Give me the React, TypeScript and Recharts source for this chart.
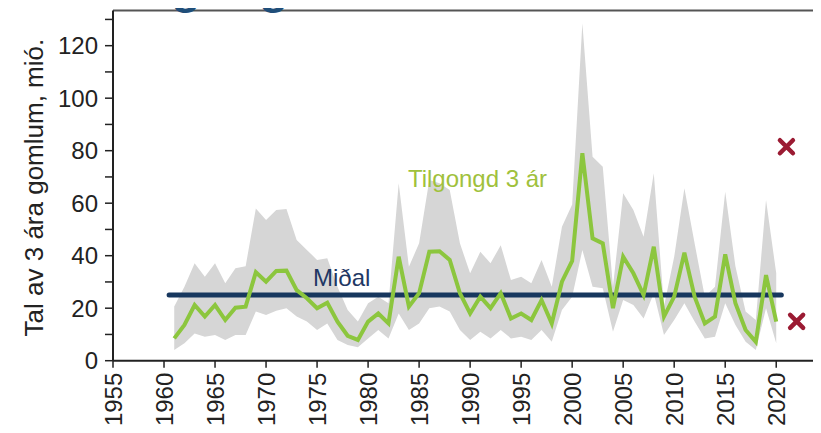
import {
  ComposedChart,
  Area,
  Line,
  Scatter,
  XAxis,
  YAxis,
  ReferenceDot,
  ReferenceLine,
} from "recharts";

// year axis
const years = [
  1961, 1962, 1963, 1964, 1965, 1966, 1967, 1968, 1969, 1970,
  1971, 1972, 1973, 1974, 1975, 1976, 1977, 1978, 1979, 1980,
  1981, 1982, 1983, 1984, 1985, 1986, 1987, 1988, 1989, 1990,
  1991, 1992, 1993, 1994, 1995, 1996, 1997, 1998, 1999, 2000,
  2001, 2002, 2003, 2004, 2005, 2006, 2007, 2008, 2009, 2010,
  2011, 2012, 2013, 2014, 2015, 2016, 2017, 2018, 2019, 2020,
];

// 3 year olds, millions
const recruits = [
  8.5, 13.6, 21.2, 16.8, 21.2, 15.5, 20.2, 20.6, 33.7, 30.1,
  34.2, 34.3, 26.9, 23.8, 20, 22.1, 14.9, 9.5, 7.9, 14.9,
  18, 14.2, 39.6, 20.6, 25.7, 41.5, 41.7, 38.4, 25.7, 18,
  24.4, 20, 25.7, 16.1, 18, 15.5, 23.1, 14.2, 30.1, 38,
  79, 46.6, 44.7, 20, 39.6, 33.3, 25, 43.4, 16.8, 24.4,
  41.1, 24.4, 14.2, 16.8, 40.5, 21.9, 11.7, 7.2, 32.6, 14.9,
];

// uncertainty band
const bandLow = [
  4.1, 6.6, 10.4, 9.1, 9.8, 7.9, 9.8, 9.8, 18.7, 17.4,
  19, 20, 16.8, 14.9, 11.7, 14.2, 7.9, 6, 5.1, 8.5,
  11.7, 8.5, 18, 11.7, 14.2, 20, 20.6, 18.7, 11.7, 7.9,
  11, 8.5, 11.7, 8.5, 9.1, 7.9, 11.7, 7.2, 19.3, 24.4,
  42.2, 28.2, 27.6, 11, 23.1, 21.2, 16.1, 25.7, 9.8, 15.5,
  21.9, 14.9, 8.5, 9.1, 21.9, 13.6, 7.2, 4.1, 20, 6.6,
];

const bandHigh = [
  20.6, 28.2, 37.1, 32, 37.1, 29.5, 35.2, 36, 58, 53.6,
  57.4, 57.8, 46, 42.2, 38.4, 39, 28.2, 19.3, 14.9, 21.9,
  24.4, 21.9, 67.6, 35.8, 44.7, 68.8, 67.6, 65, 44.7, 33.3,
  41.5, 37.1, 44, 30.7, 32, 29.5, 38.4, 28.2, 51, 59.5,
  128.5, 77.7, 73.9, 28.2, 63.8, 57.4, 47.2, 71.4, 20.6, 39.6,
  65.7, 44.7, 24.4, 28.2, 64.4, 36, 18.7, 15.5, 61.2, 33.3,
];

// mean line
const meanYears = [1960.5, 2020.5];
const meanValue = 25;

// projections (red crosses)
const forecastYears = [2021, 2022];
const forecastValues = [81.5, 15];

const xTicks = [1955, 1960, 1965, 1970, 1975, 1980, 1985, 1990, 1995, 2000, 2005, 2010, 2015, 2020];
const yTicks = [0, 10, 20, 30, 40, 50, 60, 70, 80, 90, 100, 110, 120, 130];
const X_MIN = 1955;
const X_MAX = 2023.8;
const Y_MAX = 133.4;

const FONT = "'Liberation Sans', Arial, sans-serif";

const data = years.map((year, i) => ({
  year,
  recruits: recruits[i],
  band: [bandLow[i], bandHigh[i]],
}));
const meanData = meanYears.map((year) => ({ year, mean: meanValue }));
const forecastData = forecastYears.map((year, i) => ({ year, value: forecastValues[i] }));

function XTick({ x, y, payload }: any) {
  const bx = x + 8.7;
  return (
    <text
      x={bx}
      y={y}
      transform={`rotate(-90, ${bx}, ${y})`}
      textAnchor="end"
      fontSize={24}
      fontFamily={FONT}
      fill="#222"
    >
      {payload.value}
    </text>
  );
}

function YTick({ x, y, payload }: any) {
  if (payload.value % 20 !== 0) return null;
  return (
    <text x={x} y={y + 8.5} textAnchor="end" fontSize={24} fontFamily={FONT} fill="#222">
      {payload.value}
    </text>
  );
}

function Cross({ cx, cy }: any) {
  const s = 6.5;
  return (
    <path
      d={`M${cx - s},${cy - s}L${cx + s},${cy + s}M${cx + s},${cy - s}L${cx - s},${cy + s}`}
      stroke="#9b1b33"
      strokeWidth={4.5}
      strokeLinecap="round"
    />
  );
}

export default function App() {
  return (
    <div style={{ margin: -8, width: 821, height: 433, position: "relative", overflow: "hidden", background: "#fff" }}>
      <ComposedChart
        width={821}
        height={433}
        data={data}
        margin={{ top: 10.5, right: 6, left: 0, bottom: 0 }}
      >
        <XAxis
          dataKey="year"
          type="number"
          domain={[X_MIN, X_MAX]}
          ticks={xTicks}
          allowDataOverflow
          height={72.3}
          tickSize={7}
          tickMargin={5}
          axisLine={{ stroke: "#222", strokeWidth: 2 }}
          tickLine={{ stroke: "#222", strokeWidth: 1.5 }}
          tick={<XTick />}
          interval={0}
        />
        <YAxis
          type="number"
          domain={[0, Y_MAX]}
          ticks={yTicks}
          allowDataOverflow
          width={113}
          tickSize={8}
          tickMargin={7}
          interval={0}
          axisLine={{ stroke: "#222", strokeWidth: 2 }}
          tickLine={{ stroke: "#222", strokeWidth: 1.5 }}
          tick={<YTick />}
          label={({ viewBox }: any) => {
            const cx = viewBox.x + 43;
            const cy = viewBox.y + viewBox.height / 2 + 2;
            return (
              <text
                x={cx}
                y={cy}
                transform={`rotate(-90, ${cx}, ${cy})`}
                textAnchor="middle"
                fontSize={26}
                fontFamily={FONT}
                fill="#222"
              >
                Tal av 3 ára gomlum, mió.
              </text>
            );
          }}
        />
        <Area
          dataKey="band"
          stroke="none"
          fill="#d6d6d6"
          fillOpacity={1}
          isAnimationActive={false}
        />
        <Line
          data={meanData}
          dataKey="mean"
          stroke="#17375e"
          strokeWidth={5}
          strokeLinecap="round"
          dot={false}
          isAnimationActive={false}
        />
        <Line
          dataKey="recruits"
          stroke="#8cc63e"
          strokeWidth={4}
          dot={false}
          isAnimationActive={false}
        />
        <Scatter
          data={forecastData}
          dataKey="value"
          shape={<Cross />}
          isAnimationActive={false}
        />
        <ReferenceLine y={Y_MAX} stroke="#555" strokeWidth={2} />
        <ReferenceLine x={X_MAX} stroke="#555" strokeWidth={2} />
        <ReferenceDot
          x={1983.9}
          y={66.2}
          r={0}
          fill="none"
          stroke="none"
          label={({ viewBox }: any) => (
            <text x={viewBox.x} y={viewBox.y} fontSize={24} fontFamily={FONT} fill="#a0c13c">
              Tilgongd 3 ár
            </text>
          )}
        />
        <ReferenceDot
          x={1974.6}
          y={28.5}
          r={0}
          fill="none"
          stroke="none"
          label={({ viewBox }: any) => (
            <text x={viewBox.x} y={viewBox.y} fontSize={24} fontFamily={FONT} fill="#1f3864">
              Miðal
            </text>
          )}
        />
      </ComposedChart>
      <div
        style={{
          position: "absolute",
          left: 116,
          top: -41,
          fontFamily: FONT,
          fontSize: 48,
          fontWeight: "bold",
          lineHeight: "55px",
          color: "#1f4e79",
          whiteSpace: "nowrap",
        }}
      >
        Tilgongd
      </div>
    </div>
  );
}
